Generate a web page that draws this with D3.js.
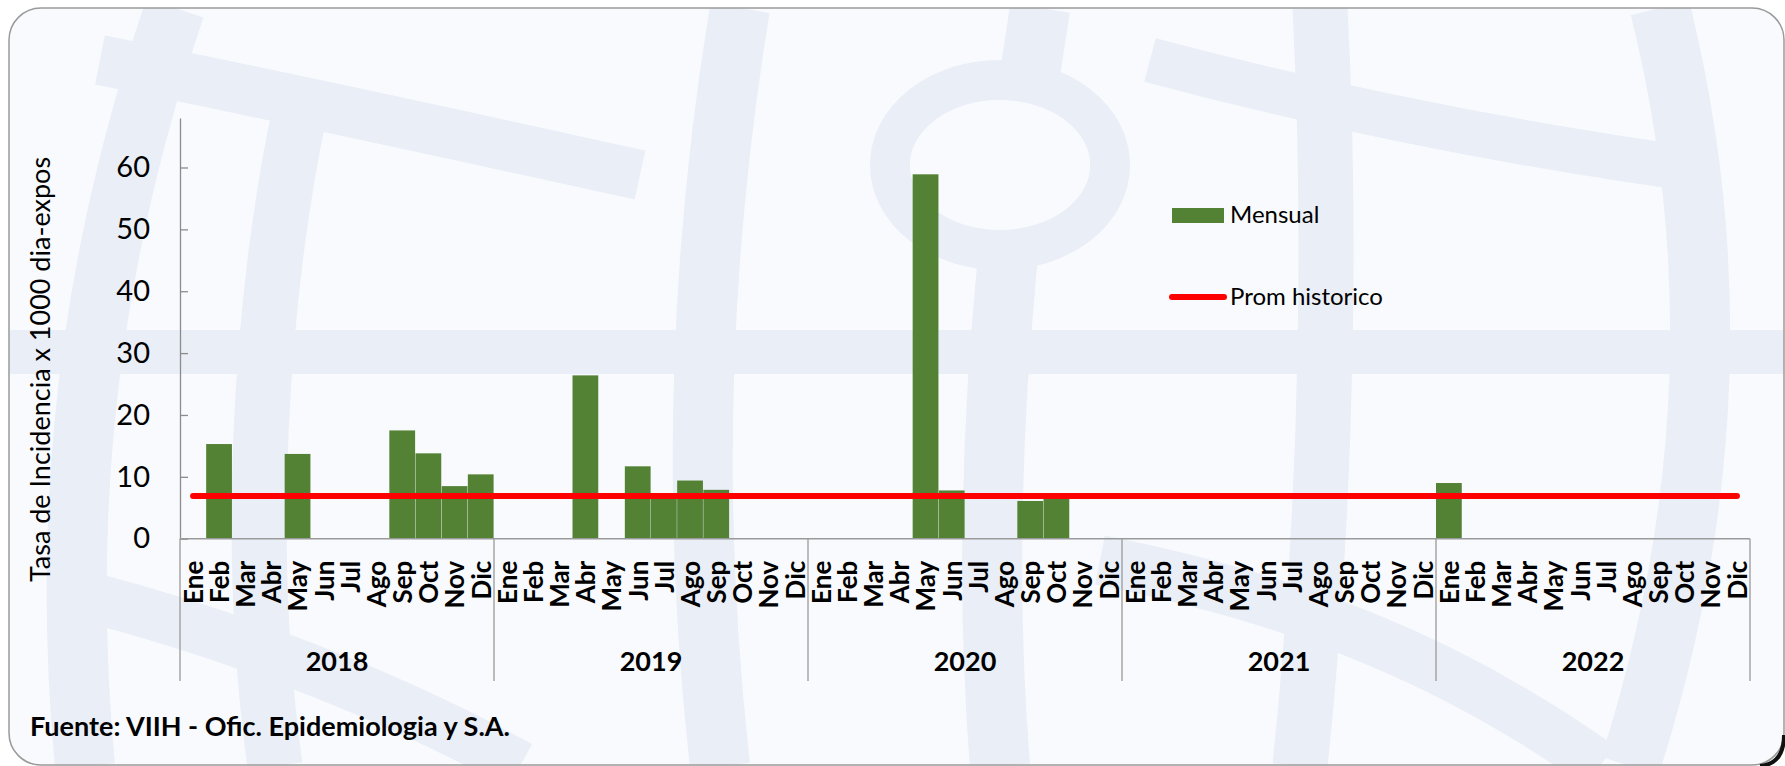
<!DOCTYPE html>
<html>
<head>
<meta charset="utf-8">
<script src="https://cdn.jsdelivr.net/npm/d3@7"></script>
<style>
  html, body { margin: 0; padding: 0; background: #ffffff; }
  svg { display: block; }
  text { font-family: Lato, "Open Sans", sans-serif; fill: #000; }
</style>
</head>
<body>
<svg id="chart" width="1785" height="766"></svg>
<script>
// ---------------- DATA ----------------
const months = ["Ene","Feb","Mar","Abr","May","Jun","Jul","Ago","Sep","Oct","Nov","Dic"];
const years = ["2018","2019","2020","2021","2022"];
const mensual2018 = [null, 15.3, null, null, 13.7, null, null, null, 17.5, 13.8, 8.5, 10.4];
const mensual2019 = [null, null, null, 26.4, null, 11.7, 7.0, 9.4, 7.9, null, null, null];
const mensual2020 = [null, null, null, null, 58.9, 7.8, null, null, 6.1, 6.7, null, null];
const mensual2021 = [null, null, null, null, null, null, null, null, null, null, null, null];
const mensual2022 = [9.0, null, null, null, null, null, null, null, null, null, null, null];
const promHistorico = 6.9;
const yTicks = [0, 10, 20, 30, 40, 50, 60];
const yMax = 68;
const legendLabels = ["Mensual", "Prom historico"];
const sourceText = "Fuente: VIIH - Ofic. Epidemiologia y S.A.";
const yTitle = "Tasa de Incidencia x 1000 dia-expos";

// ---------------- BUILD ----------------
const seriesByYear = [mensual2018, mensual2019, mensual2020, mensual2021, mensual2022];
const cats = [];
years.forEach((yr, yi) => months.forEach((m, mi) => {
  cats.push({ key: yr + "-" + m, year: yr, month: m, value: seriesByYear[yi][mi] });
}));

const svg = d3.select("#chart");
const W = 1785, H = 766;

// background + frame
svg.append("rect").attr("x", 0).attr("y", 0).attr("width", W).attr("height", H).attr("fill", "#ffffff");
svg.append("defs").append("clipPath").attr("id", "frameClip")
  .append("rect").attr("x", 9).attr("y", 8).attr("width", 1775).attr("height", 757).attr("rx", 32);
svg.append("rect").attr("x", 9).attr("y", 8).attr("width", 1775).attr("height", 757)
  .attr("rx", 32).attr("fill", "#f8fafd");

// watermark (decorative logo, very pale)
const wm = svg.append("g").attr("clip-path", "url(#frameClip)")
  .attr("fill", "none").attr("stroke", "#e9eef7").attr("stroke-linecap", "butt");
const wmPaths = [
  { d: "M 175,8 C 110,200 55,450 85,766", w: 60 },
  { d: "M 300,110 C 260,300 245,550 275,766", w: 55 },
  { d: "M 100,60 C 300,100 480,140 640,175", w: 50 },
  { d: "M 740,8 C 700,250 690,500 720,766", w: 60 },
  { d: "M 1040,8 C 1000,260 980,520 1000,766", w: 60 },
  { d: "M 1320,8 C 1330,200 1330,480 1300,766", w: 55 },
  { d: "M 1660,8 C 1720,250 1715,500 1630,766", w: 60 },
  { d: "M 1150,60 C 1300,100 1480,140 1700,170", w: 45 },
  { d: "M 1100,560 C 1300,600 1450,660 1600,766", w: 50 },
  { d: "M 100,600 C 250,640 400,700 520,766", w: 50 },
  { d: "M 9,352 L 1784,352", w: 44 }
];
wmPaths.forEach(p => wm.append("path").attr("d", p.d).attr("stroke-width", p.w));
wm.append("ellipse").attr("cx", 1000).attr("cy", 165).attr("rx", 110).attr("ry", 85)
  .attr("stroke-width", 40);
wm.append("ellipse").attr("cx", 1000).attr("cy", 165).attr("rx", 90).attr("ry", 65)
  .attr("fill", "#f8fafd").attr("stroke", "none");

svg.append("rect").attr("x", 9).attr("y", 8).attr("width", 1775).attr("height", 757)
  .attr("rx", 32).attr("fill", "none").attr("stroke", "#9a9a9a").attr("stroke-width", 1.5);
svg.append("path").attr("d", "M 1784,735 Q 1784,764 1760,766")
  .attr("fill", "none").attr("stroke", "#111").attr("stroke-width", 4);

// scales
const plotL = 180, plotR = 1750, plotB = 538.7, plotT = 118;
const xFull = d3.scaleBand().domain(cats.map(d => d.key)).range([plotL, plotR]).padding(0);
const xYear = d3.scaleBand().domain(years).range([plotL, plotR]).padding(0);
const y = d3.scaleLinear().domain([0, yMax]).range([plotB, plotT]);

// bars
svg.append("g").selectAll("rect").data(cats.filter(d => d.value != null)).join("rect")
  .attr("x", d => xFull(d.key))
  .attr("width", xFull.bandwidth() - 0.4)
  .attr("y", d => y(d.value))
  .attr("height", d => y(0) - y(d.value))
  .attr("fill", "#548235");

// y axis
const yAxis = d3.axisLeft(y).tickValues(yTicks).tickSizeInner(-8).tickSizeOuter(0).tickPadding(30);
const gy = svg.append("g").attr("transform", `translate(${plotL},0)`).call(yAxis);
gy.select(".domain").attr("stroke", "#8c8c8c").attr("stroke-width", 1.3);
gy.selectAll(".tick line").attr("stroke", "#8c8c8c").attr("stroke-width", 1.3);
gy.selectAll(".tick text").attr("font-size", 29).attr("font-family", "Lato").attr("fill", "#000");

// y title
svg.append("text")
  .attr("transform", `translate(50,${(157 + 582) / 2}) rotate(-90)`)
  .attr("text-anchor", "middle")
  .attr("font-size", 27)
  .text(yTitle);

// x axis (month labels)
const xAxis = d3.axisBottom(xFull).tickSize(0).tickFormat(k => k.split("-")[1]);
const gx = svg.append("g").attr("transform", `translate(0,${plotB})`).call(xAxis);
gx.select(".domain").remove();
gx.selectAll(".tick text")
  .attr("transform", "rotate(-90)")
  .attr("x", -22)
  .attr("y", 0)
  .attr("dy", "0.37em")
  .attr("text-anchor", "end")
  .attr("font-size", 26)
  .attr("font-weight", "bold")
  .attr("font-family", "Lato")
  .attr("fill", "#000");

// x axis line and year separators
svg.append("line").attr("x1", plotL).attr("x2", plotR).attr("y1", plotB).attr("y2", plotB)
  .attr("stroke", "#9a9a9a").attr("stroke-width", 1.5);
const sepX = years.map(yv => xYear(yv)).concat([plotR]);
svg.append("g").selectAll("line").data(sepX).join("line")
  .attr("x1", d => d).attr("x2", d => d).attr("y1", plotB).attr("y2", 681)
  .attr("stroke", "#9a9a9a").attr("stroke-width", 1.3);

// year labels
svg.append("g").selectAll("text").data(years).join("text")
  .attr("x", d => xYear(d) + xYear.bandwidth() / 2)
  .attr("y", 671)
  .attr("text-anchor", "middle")
  .attr("font-size", 27)
  .attr("font-weight", "bold")
  .text(d => d);

// average line
const first = cats[0].key, last = cats[cats.length - 1].key;
svg.append("line")
  .attr("x1", xFull(first) + xFull.bandwidth() / 2)
  .attr("x2", xFull(last) + xFull.bandwidth() / 2)
  .attr("y1", y(promHistorico)).attr("y2", y(promHistorico))
  .attr("stroke", "#ff0000").attr("stroke-width", 6).attr("stroke-linecap", "round");

// legend
const lg = svg.append("g");
lg.append("rect").attr("x", 1172).attr("y", 208).attr("width", 52).attr("height", 15).attr("fill", "#548235");
lg.append("text").attr("x", 1230).attr("y", 223).attr("font-size", 24).text(legendLabels[0]);
lg.append("line").attr("x1", 1172).attr("x2", 1224).attr("y1", 297).attr("y2", 297)
  .attr("stroke", "#ff0000").attr("stroke-width", 6).attr("stroke-linecap", "round");
lg.append("text").attr("x", 1230).attr("y", 305).attr("font-size", 24).text(legendLabels[1]);

// source
svg.append("text").attr("x", 30).attr("y", 736).attr("font-size", 27).attr("font-weight", "bold").text(sourceText);
</script>
</body>
</html>
